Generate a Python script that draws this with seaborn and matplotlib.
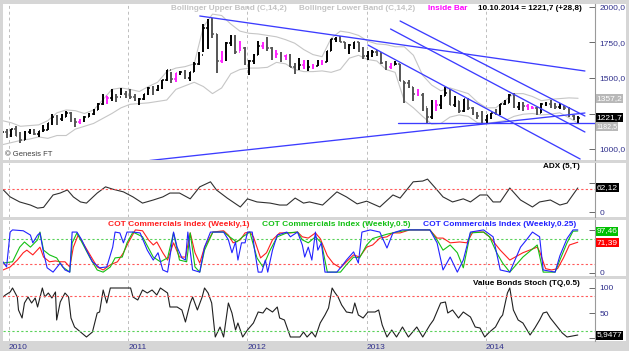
import numpy as np
import pandas as pd
import matplotlib
matplotlib.use("Agg")
import matplotlib.pyplot as plt
import seaborn as sns
from matplotlib.patches import Rectangle
from matplotlib.transforms import blended_transform_factory

# ---------------- DATA ----------------
# bi-weekly gold bars (USD), ending 10.10.2014
bar_end = "2014-10-10"
bar_count = 127
high = [1165,1140,1140,1162,1123,1125,1140,1138,1128,1170,1183,1249,1237,1250,1265,1262,1215,1212,1232,1255,
        1280,1322,1387,1371,1424,1385,1431,1409,1425,1386,1356,1390,1440,1445,1448,1487,1557,1540,1538,1548,
        1557,1545,1610,1680,1880,1912,1921,1807,1690,1750,1802,1800,1763,1720,1625,1672,1764,1750,1791,1715,
        1695,1680,1665,1670,1605,1641,1628,1625,1600,1627,1625,1692,1778,1790,1796,1756,1737,1755,1755,1721,
        1693,1694,1695,1680,1620,1605,1617,1600,1480,1487,1440,1420,1395,1290,1348,1346,1380,1434,1420,1374,
        1338,1352,1361,1294,1262,1267,1240,1256,1280,1318,1345,1384,1392,1332,1330,1316,1305,1296,1322,1333,
        1345,1322,1324,1300,1294,1238,1232]
low = [1105,1075,1087,1090,1045,1062,1105,1100,1082,1123,1135,1166,1166,1196,1224,1190,1157,1175,1192,1222,
       1240,1272,1310,1316,1337,1330,1380,1357,1355,1340,1308,1345,1380,1380,1406,1425,1482,1462,1475,1522,
       1496,1478,1542,1595,1685,1703,1780,1532,1604,1620,1722,1672,1690,1590,1523,1598,1660,1706,1688,1627,
       1641,1612,1627,1574,1527,1555,1563,1548,1565,1585,1595,1610,1688,1752,1751,1701,1671,1705,1684,1635,
       1626,1650,1655,1600,1555,1562,1590,1477,1321,1431,1338,1373,1268,1180,1210,1270,1280,1370,1308,1295,
       1251,1260,1276,1237,1211,1186,1182,1211,1240,1240,1311,1323,1287,1277,1268,1277,1284,1240,1251,1305,
       1292,1282,1283,1273,1228,1206,1183]
close = [1118,1104,1138,1092,1065,1118,1132,1105,1125,1136,1180,1228,1212,1228,1256,1210,1188,1204,1228,1247,
         1275,1318,1370,1358,1366,1363,1384,1380,1368,1343,1350,1388,1430,1418,1429,1486,1556,1492,1536,1542,
         1500,1541,1601,1663,1852,1876,1812,1623,1683,1744,1788,1684,1713,1606,1617,1664,1725,1724,1710,1658,
         1668,1658,1663,1579,1573,1591,1572,1579,1584,1606,1616,1691,1772,1775,1757,1712,1731,1751,1703,1657,
         1657,1686,1667,1609,1575,1592,1597,1477,1462,1437,1387,1383,1296,1223,1294,1310,1374,1396,1308,1337,
         1268,1350,1287,1244,1231,1202,1238,1254,1246,1318,1326,1379,1294,1318,1300,1290,1292,1252,1316,1320,
         1309,1294,1305,1287,1230,1216,1221.7]

# Bollinger bands (C,14,2), every second bar
boll_upper = [1200,1185,1160,1165,1170,1200,1255,1275,1270,1250,1275,1345,1420,1430,1420,1405,1440,1470,1545,1570,
              1580,1600,1860,1950,1940,1880,1830,1815,1810,1800,1790,1770,1745,1700,1665,1650,1780,1830,1820,1800,
              1760,1740,1735,1720,1720,1660,1520,1450,1410,1430,1410,1390,1330,1290,1290,1340,1390,1390,1370,1340,
              1350,1355,1360,1357.2]
boll_lower = [1030,1045,1060,1070,1085,1075,1095,1095,1140,1160,1180,1215,1250,1290,1315,1320,1325,1335,1345,1420,
              1445,1470,1440,1390,1430,1530,1560,1570,1570,1575,1610,1600,1560,1545,1545,1550,1540,1560,1640,1660,
              1630,1620,1560,1540,1340,1290,1230,1175,1180,1225,1240,1230,1185,1180,1190,1200,1230,1245,1250,1240,
              1245,1255,1220,1182]

# trend lines (decimal year, price)
trend_t0 = [2011.60, 2011.18, 2013.28, 2013.20, 2013.01, 2013.26]
trend_p0 = [1936.6, 919.0, 1901.4, 1845.1, 1732.4, 1183.1]
trend_t1 = [2014.83, 2014.83, 2014.83, 2014.83, 2014.79, 2014.93]
trend_p1 = [1549.3, 1253.5, 1232.4, 1119.8, 929.6, 1183.1]

# ADX (5,T)
adx_t = [2009.95,2010.01,2010.09,2010.18,2010.24,2010.29,2010.37,2010.43,2010.49,2010.54,2010.60,2010.65,2010.74,
         2010.81,2010.87,2010.96,2011.04,2011.12,2011.21,2011.29,2011.35,2011.43,2011.52,2011.60,2011.69,2011.74,
         2011.83,2011.94,2012.00,2012.08,2012.19,2012.27,2012.33,2012.40,2012.47,2012.52,2012.63,2012.75,2012.83,
         2012.92,2013.00,2013.11,2013.22,2013.28,2013.39,2013.47,2013.51,2013.59,2013.64,2013.72,2013.81,2013.87,
         2013.95,2014.01,2014.06,2014.12,2014.20,2014.29,2014.39,2014.45,2014.54,2014.62,2014.68,2014.77]
adx_v = [58,39,26,18,10,12,44,49,57,39,26,23,49,65,59,52,39,23,31,39,49,49,34,65,78,57,36,13,34,26,
         23,18,18,36,23,26,18,52,39,21,28,13,44,36,78,80,85,57,39,26,34,26,44,44,26,26,62,31,13,26,
         31,18,23,62.12]

# COT Commercials Index (Weekly,1) - red
cot1_t = [2009.95,2010.01,2010.07,2010.12,2010.15,2010.20,2010.26,2010.29,2010.34,2010.39,2010.43,2010.47,2010.51,
          2010.54,2010.58,2010.62,2010.68,2010.74,2010.79,2010.85,2010.91,2010.96,2011.00,2011.06,2011.12,2011.17,
          2011.21,2011.24,2011.29,2011.33,2011.38,2011.43,2011.48,2011.52,2011.56,2011.60,2011.64,2011.71,2011.80,
          2011.84,2011.88,2011.94,2011.98,2012.02,2012.05,2012.11,2012.16,2012.21,2012.27,2012.36,2012.42,2012.46,
          2012.51,2012.57,2012.61,2012.67,2012.72,2012.78,2012.83,2012.89,2012.94,2013.00,2013.05,2013.11,2013.17,
          2013.22,2013.28,2013.36,2013.53,2013.59,2013.64,2013.70,2013.78,2013.84,2013.89,2013.98,2014.03,2014.12,
          2014.20,2014.31,2014.43,2014.45,2014.50,2014.55,2014.60,2014.65,2014.70,2014.77]
cot1_v = [7,14,30,47,53,42,60,37,26,28,26,26,14,60,88,70,42,14,7,19,26,47,70,100,98,77,65,72,47,30,70,37,37,93,
          47,23,60,95,98,88,70,77,93,95,84,35,47,77,93,93,95,84,81,93,80,40,22,12,26,42,37,60,65,81,84,93,93,100,
          100,81,81,70,72,70,95,95,84,53,30,47,60,50,10,7,10,35,65,71.39]
# COT Commercials Index (Weekly,0.5) - green
cot2_t = [2009.95,2010.03,2010.09,2010.13,2010.18,2010.24,2010.26,2010.29,2010.34,2010.40,2010.45,2010.51,2010.53,
          2010.57,2010.61,2010.68,2010.74,2010.79,2010.85,2010.89,2010.95,2010.99,2011.04,2011.12,2011.21,2011.27,
          2011.33,2011.38,2011.43,2011.49,2011.52,2011.56,2011.60,2011.64,2011.71,2011.80,2011.85,2011.91,2011.96,
          2012.02,2012.08,2012.13,2012.19,2012.25,2012.33,2012.42,2012.46,2012.51,2012.57,2012.62,2012.67,2012.78,
          2012.83,2012.89,2012.94,2013.00,2013.05,2013.11,2013.17,2013.25,2013.36,2013.53,2013.59,2013.64,2013.70,
          2013.76,2013.81,2013.87,2013.98,2014.03,2014.09,2014.14,2014.20,2014.31,2014.43,2014.48,2014.58,2014.62,
          2014.68,2014.73,2014.77]
cot2_v = [23,26,60,72,60,77,95,53,42,35,14,2,70,93,72,35,7,2,14,35,37,70,95,84,37,26,35,93,30,26,93,14,2,53,95,
          95,84,72,84,95,35,14,53,84,93,95,77,70,84,70,2,2,19,37,35,65,80,85,90,95,100,100,77,53,65,47,12,93,95,
          84,47,23,2,37,65,2,2,30,70,97,97.46]
# COT Commercials Index (Weekly,0.25) - blue
cot3_t = [2009.95,2009.98,2010.01,2010.03,2010.12,2010.18,2010.20,2010.24,2010.26,2010.29,2010.32,2010.37,2010.43,
          2010.47,2010.51,2010.53,2010.57,2010.61,2010.65,2010.70,2010.76,2010.82,2010.87,2010.89,2010.93,2010.96,
          2010.99,2011.04,2011.10,2011.16,2011.21,2011.25,2011.29,2011.33,2011.35,2011.38,2011.41,2011.45,2011.48,
          2011.50,2011.54,2011.60,2011.64,2011.69,2011.80,2011.84,2011.87,2011.90,2011.92,2011.95,2011.98,2012.00,
          2012.04,2012.06,2012.09,2012.12,2012.15,2012.17,2012.21,2012.25,2012.33,2012.36,2012.42,2012.46,2012.48,
          2012.51,2012.54,2012.57,2012.59,2012.62,2012.65,2012.75,2012.80,2012.83,2012.89,2012.93,2012.96,2013.03,
          2013.11,2013.17,2013.22,2013.30,2013.53,2013.59,2013.64,2013.70,2013.76,2013.81,2013.87,2013.98,2014.06,
          2014.12,2014.20,2014.29,2014.34,2014.39,2014.45,2014.48,2014.58,2014.62,2014.68,2014.73,2014.77]
cot3_v = [26,14,95,100,98,88,70,88,93,47,12,2,23,7,2,95,95,77,53,26,12,14,60,95,93,70,95,95,93,53,30,47,7,2,37,95,
          60,35,30,95,7,2,60,95,95,77,47,72,30,70,70,95,95,53,2,2,30,2,53,88,95,84,95,65,37,60,30,95,53,70,2,2,19,
          30,49,23,95,100,95,58,93,100,100,70,7,37,2,30,95,100,84,7,2,60,77,95,84,7,2,40,80,100,100]

# Value Bonds Stoch (TQ,0.5)
stoch_t = [2009.95,2009.97,2010.01,2010.03,2010.07,2010.08,2010.11,2010.13,2010.16,2010.19,2010.22,2010.24,2010.28,
           2010.30,2010.33,2010.36,2010.39,2010.40,2010.43,2010.47,2010.50,2010.52,2010.55,2010.61,2010.65,2010.70,
           2010.74,2010.76,2010.79,2010.82,2010.85,2011.02,2011.04,2011.08,2011.12,2011.16,2011.20,2011.24,2011.27,
           2011.33,2011.35,2011.41,2011.45,2011.48,2011.52,2011.54,2011.58,2011.62,2011.64,2011.67,2011.70,2011.73,
           2011.77,2011.80,2011.84,2011.87,2011.90,2011.92,2011.96,2012.00,2012.05,2012.09,2012.13,2012.16,2012.21,
           2012.25,2012.27,2012.31,2012.36,2012.44,2012.47,2012.50,2012.54,2012.57,2012.61,2012.65,2012.68,2012.71,
           2012.73,2012.76,2012.79,2012.83,2012.88,2012.90,2012.93,2012.97,2013.01,2013.07,2013.10,2013.13,2013.17,
           2013.21,2013.25,2013.30,2013.35,2013.42,2013.47,2013.53,2013.56,2013.62,2013.66,2013.68,2013.72,2013.77,
           2013.81,2013.87,2013.91,2013.95,2013.99,2014.03,2014.08,2014.12,2014.14,2014.18,2014.20,2014.23,2014.27,
           2014.31,2014.37,2014.41,2014.45,2014.48,2014.51,2014.54,2014.60,2014.64,2014.68,2014.77]
stoch_v = [82,86,92,100,82,56,40,70,82,70,80,62,100,82,90,80,92,36,72,90,82,40,22,10,2,12,50,52,96,70,100,100,82,76,
           96,90,96,86,100,90,62,62,56,32,70,82,56,82,100,90,70,2,22,2,70,50,16,30,2,16,30,52,50,60,52,62,40,36,2,2,
           12,2,12,2,30,46,60,100,92,82,66,52,50,70,46,40,52,52,56,26,2,16,2,22,2,22,2,26,36,70,72,50,56,40,52,42,
           22,20,2,12,22,40,46,90,100,56,36,30,6,20,36,50,52,40,22,10,2,5.9477]

year_ticks = [2010, 2011, 2012, 2013, 2014]
year_labels = ["2010", "2011", "2012", "2013", "2014"]
price_ticks = [1000, 1250, 1500, 1750, 2000]
price_labels = ["1000,0", "", "1500,0", "1750,0", "2000,0"]   # 1250,0 sits under the last-price tag

for a, b in [(high, low), (high, close), (boll_upper, boll_lower), (adx_t, adx_v), (cot1_t, cot1_v),
             (cot2_t, cot2_v), (cot3_t, cot3_v), (stoch_t, stoch_v)]:
    assert len(a) == len(b), (len(a), len(b))
assert len(high) == bar_count

# ---------------- STYLE / LAYOUT ----------------
sns.set_theme(style="white")
plt.rcParams["font.family"] = ["Liberation Sans", "DejaVu Sans"]

W, H = 629, 351
fig = plt.figure(figsize=(W / 100, H / 100), dpi=100, facecolor="#d6d6d6")

def frame(x0, y0, x1, y1):
    return [x0 / W, 1 - y1 / H, (x1 - x0) / W, (y1 - y0) / H]

panels = [(4, 160), (163, 217), (220, 276), (279, 341)]
axes = []
for (t, b) in panels:
    ax = fig.add_axes(frame(3, t, 595, b))
    ax.set_facecolor("white")
    axes.append(ax)
    fig.add_artist(Rectangle((595 / W, 1 - b / H), 31 / W, (b - t) / H, transform=fig.transFigure,
                             facecolor="white", edgecolor="none", zorder=-1))
ax0, ax1, ax2, ax3 = axes

XMIN, XMAX = 2009.950, 2014.9145
tick_blue = "#30308c"
for ax in axes:
    ax.set_xlim(XMIN, XMAX)
    for s in ["left", "top", "bottom"]:
        ax.spines[s].set_visible(False)
    ax.spines["right"].set_color("#9a9a9a")
    ax.spines["right"].set_linewidth(0.8)
    ax.set_xticks(year_ticks)
    ax.xaxis.grid(True, color="#bdbdbd", linestyle=(0, (3, 3)), linewidth=0.7)
    ax.yaxis.grid(False)
    ax.set_axisbelow(True)
    ax.yaxis.tick_right()
    ax.tick_params(axis="y", direction="in", length=4, width=0.6, color="#505050",
                   labelsize=6, labelcolor=tick_blue, pad=3)
    ax.tick_params(axis="x", length=0, labelbottom=False)

# ---------------- MAIN PRICE PANEL ----------------
def dec_year(idx):
    leap = np.where(idx.is_leap_year, 366.0, 365.0)
    return np.asarray(idx.year + (idx.dayofyear - 1) / leap, dtype=float)

bar_dates = pd.date_range(end=bar_end, periods=bar_count, freq="14D")
bar_t = dec_year(bar_dates)
hi = np.array(high, float); lo = np.array(low, float); cl = np.array(close, float)
op = np.r_[cl[0], cl[:-1]]
inside = np.r_[False, (hi[1:] < hi[:-1]) & (lo[1:] > lo[:-1])]
cols = np.where(inside, "#ff22ff", np.where(cl >= op, "#000000", "#555555"))

band_t = bar_t[::2]
sns.lineplot(x=band_t, y=boll_upper, ax=ax0, color="#c6c6c6", linewidth=0.8, legend=False)
sns.lineplot(x=band_t, y=boll_lower, ax=ax0, color="#c6c6c6", linewidth=0.8, legend=False)

tw = 0.012
ax0.vlines(bar_t, lo, hi, colors=cols, linewidth=1.4, zorder=3)
ax0.hlines(op, bar_t - tw, bar_t, colors=cols, linewidth=1.1, zorder=3)
ax0.hlines(cl, bar_t, bar_t + tw, colors=cols, linewidth=1.1, zorder=3)

for t0, p0, t1, p1 in zip(trend_t0, trend_p0, trend_t1, trend_p1):
    ax0.plot([t0, t1], [p0, p1], color="#3c3cff", linewidth=0.95, zorder=4)

ax0.set_ylim(922.6, 2021.1)
ax0.set_yticks(price_ticks)
ax0.set_yticklabels(price_labels)

hdr_y = 0.974
hdr_kw = dict(transform=ax0.transAxes, fontsize=5.9, fontweight="bold", va="center", ha="left")
ax0.text((171 - 3) / 592, hdr_y, "Bollinger Upper Band (C,14,2)", color="#c3c3c3", **hdr_kw)
ax0.text((299 - 3) / 592, hdr_y, "Bollinger Lower Band (C,14,2)", color="#c3c3c3", **hdr_kw)
ax0.text((428 - 3) / 592, hdr_y, "Inside Bar", color="#ff00ff", **hdr_kw)
ax0.text((478 - 3) / 592, hdr_y, "10.10.2014 = 1221,7 (+28,8)", color="#000000", **hdr_kw)
ax0.text(0.004, 0.035, "© Genesis FT", transform=ax0.transAxes, fontsize=5.5, color="#404040",
         va="center", ha="left")

def tag(ax, y, s, fc, tc="white", fs=6):
    tr = blended_transform_factory(ax.transAxes, ax.transData)
    ax.text((596.5 - 3) / 592, y, s, transform=tr, fontsize=fs, color=tc, ha="left", va="center",
            clip_on=False, zorder=10,
            bbox=dict(boxstyle="square,pad=0.12", fc=fc, ec="none"))

tag(ax0, boll_upper[-1], "1357,2", "#b8b8b8")
tag(ax0, 1160.0, "1182,5", "#b8b8b8", fs=5)
tag(ax0, close[-1], "1221,7", "#000000")

# ---------------- ADX PANEL ----------------
sns.lineplot(x=adx_t, y=adx_v, ax=ax1, color="#303030", linewidth=0.8, legend=False)
ax1.axhline(60, color="#ff5a5a", linestyle=(0, (2, 2)), linewidth=0.8)
ax1.set_ylim(-12.9, 126.6)
ax1.set_yticks([0, 75])
ax1.set_yticklabels(["0", ""])
ax1.text((580 - 3) / 592, 0.926, "ADX (5,T)", transform=ax1.transAxes, fontsize=5.9,
         fontweight="bold", ha="right", va="center", color="black")
tag(ax1, adx_v[-1], "62,12", "#000000")

# ---------------- COT PANEL ----------------
sns.lineplot(x=cot1_t, y=cot1_v, ax=ax2, color="#ff2020", linewidth=0.8, legend=False)
sns.lineplot(x=cot2_t, y=cot2_v, ax=ax2, color="#14c014", linewidth=0.8, legend=False)
sns.lineplot(x=cot3_t, y=cot3_v, ax=ax2, color="#2222ff", linewidth=0.8, legend=False)
ax2.axhline(80, color="#5ad25a", linestyle=(0, (2, 2)), linewidth=0.8, zorder=1)
ax2.axhline(20, color="#ff5a5a", linestyle=(0, (2, 2)), linewidth=0.8, zorder=1)
ax2.set_ylim(-7, 123)
ax2.set_yticks([0, 100])
ax2.set_yticklabels(["0", ""])
cot_kw = dict(transform=ax2.transAxes, fontsize=6, fontweight="bold", ha="left", va="center")
ax2.text((108 - 3) / 592, 0.911, "COT Commercials Index (Weekly,1)", color="#ff2020", **cot_kw)
ax2.text((262 - 3) / 592, 0.911, "COT Commercials Index (Weekly,0.5)", color="#14c014", **cot_kw)
ax2.text((423 - 3) / 592, 0.911, "COT Commercials Index (Weekly,0.25)", color="#2222ff", **cot_kw)
tag(ax2, cot1_v[-1], "71,39", "#ff0000")
tag(ax2, cot2_v[-1], "97,46", "#00c000")

# ---------------- STOCH PANEL ----------------
sns.lineplot(x=stoch_t, y=stoch_v, ax=ax3, color="#202020", linewidth=0.8, legend=False)
ax3.axhline(85, color="#ff5a5a", linestyle=(0, (2, 2)), linewidth=0.8)
ax3.axhline(15, color="#5ad25a", linestyle=(0, (2, 2)), linewidth=0.8)
ax3.set_ylim(-6, 118)
ax3.set_yticks([0, 50, 100])
ax3.set_yticklabels(["", "50", "100"])
ax3.text((580 - 3) / 592, 0.935, "Value Bonds Stoch (TQ,0.5)", transform=ax3.transAxes, fontsize=5.9,
         fontweight="bold", ha="right", va="center", color="black")
tag(ax3, stoch_v[-1], "5,9477", "#000000")

ax3.tick_params(axis="x", labelbottom=True, labelsize=6, labelcolor=tick_blue, pad=2.5)
ax3.set_xticklabels(year_labels)
for lbl in ax3.get_xticklabels():
    lbl.set_ha("left")

for ax in axes:
    ax.set_xlabel("")
    ax.set_ylabel("")

fig.savefig("out.png", dpi=100, facecolor=fig.get_facecolor())
